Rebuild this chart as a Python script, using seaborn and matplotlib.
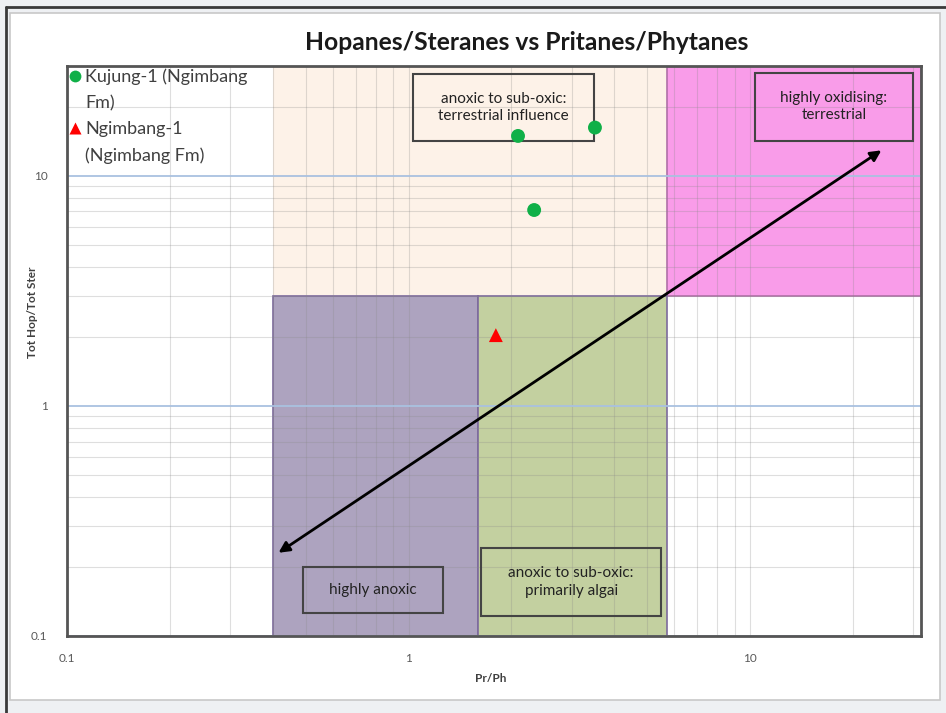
import pandas as pd
import seaborn as sns
import matplotlib.pyplot as plt
from matplotlib.patches import Rectangle
from matplotlib.lines import Line2D
from matplotlib.ticker import LogLocator, FixedFormatter, FixedLocator

# --- data ---
wells = ["Kujung-1 (Ngimbang"] * 3 + ["Ngimbang-1"]
well_suffix = ["Fm)", "(Ngimbang Fm)"]   # second legend line of each well
pr_ph = [2.09, 3.51, 2.33, 1.80]
hop_ster = [14.9, 16.2, 7.1, 2.03]

# interpretation field limits
x_cuts = [0.4, 1.6, 5.7, 31.6]
y_cuts = [0.1, 3.0, 30.0]

# text boxes: label, x-range, y-range
box_labels = ["anoxic to sub-oxic:\nterrestrial influence", "highly oxidising:\nterrestrial",
              "highly anoxic", "anoxic to sub-oxic:\nprimarily algai"]
box_x = [(1.03, 3.49), (10.3, 30.0), (0.49, 1.26), (1.63, 5.48)]
box_y = [(14.1, 27.8), (14.2, 28.1), (0.126, 0.2), (0.122, 0.242)]

# trend arrow ends
arrow_start = (24.2, 12.9)
arrow_end = (0.416, 0.23)

df = pd.DataFrame({"well": wells, "pr_ph": pr_ph, "hop_ster": hop_ster})

sns.set_style("white")
plt.rcParams["font.family"] = ["Lato", "DejaVu Sans"]

fig = plt.figure(figsize=(9.46, 7.13), dpi=100, facecolor="#eef0f3")

# white chart panel and window edges
fig.patches.append(Rectangle((10 / 946, 1 - 700 / 713), 930 / 946, 687 / 713,
                             transform=fig.transFigure, facecolor="white",
                             edgecolor="#c8c8c8", lw=1.2, zorder=-10))
fig.lines.append(Line2D([6 / 946, 6 / 946], [0, 1 - 7 / 713], transform=fig.transFigure,
                        color="#3a3a3a", lw=2, zorder=-9))
fig.lines.append(Line2D([6 / 946, 1], [1 - 7 / 713, 1 - 7 / 713], transform=fig.transFigure,
                        color="#3a3a3a", lw=2, zorder=-9))

ax = fig.add_axes([67 / 946, 1 - 636 / 713, 854 / 946, 570 / 713])
ax.set_facecolor("none")
ax.set_xscale("log")
ax.set_yscale("log")
ax.set_xlim(0.1, x_cuts[-1])
ax.set_ylim(y_cuts[0], y_cuts[-1])

# coloured fields
fields = [
    (x_cuts[0], x_cuts[2], y_cuts[1], y_cuts[2], "#fdf2e8", "none"),
    (x_cuts[2], x_cuts[3], y_cuts[1], y_cuts[2], "#f99ce9", "#b070a8"),
    (x_cuts[0], x_cuts[1], y_cuts[0], y_cuts[1], "#ada3bf", "#7d6a9d"),
    (x_cuts[1], x_cuts[2], y_cuts[0], y_cuts[1], "#c3d0a0", "#7d6a9d"),
]
for x0, x1, y0, y1, fc, ec in fields:
    ax.add_patch(Rectangle((x0, y0), x1 - x0, y1 - y0, facecolor=fc, edgecolor=ec,
                           lw=1.2, zorder=1))

# grid
ax.set_axisbelow(False)
ax.xaxis.set_minor_locator(LogLocator(base=10, subs=range(2, 10)))
ax.yaxis.set_minor_locator(LogLocator(base=10, subs=range(2, 10)))
ax.grid(True, which="minor", color="#8a8a8a", alpha=0.28, lw=0.8)
ax.grid(True, which="major", axis="x", color="#8a8a8a", alpha=0.28, lw=0.8)
ax.grid(True, which="major", axis="y", color="#a9c1e0", lw=1.3)

ax.xaxis.set_major_locator(FixedLocator([0.1, 1, 10]))
ax.xaxis.set_major_formatter(FixedFormatter(["0.1", "1", "10"]))
ax.yaxis.set_major_locator(FixedLocator([0.1, 1, 10]))
ax.yaxis.set_major_formatter(FixedFormatter(["0.1", "1", "10"]))
ax.xaxis.set_minor_formatter(FixedFormatter([]))
ax.yaxis.set_minor_formatter(FixedFormatter([]))
ax.tick_params(which="major", length=0, labelsize=8.5, labelcolor="#595959", pad=12)
ax.tick_params(which="minor", length=0)
ax.tick_params(axis="y", which="major", pad=14)

for s in ax.spines.values():
    s.set_color("#555555")
    s.set_linewidth(2)
    s.set_zorder(6)

# text boxes
for lab, (x0, x1), (y0, y1) in zip(box_labels, box_x, box_y):
    ax.add_patch(Rectangle((x0, y0), x1 - x0, y1 - y0, facecolor="none",
                           edgecolor="#444444", lw=1.5, zorder=3))
    ax.text((x0 * x1) ** 0.5, (y0 * y1) ** 0.5, lab, ha="center", va="center",
            fontsize=11, color="#222222", zorder=3, linespacing=1.3)

# arrow
ax.annotate("", xy=arrow_end, xytext=arrow_start,
            arrowprops=dict(arrowstyle="<|-|>", color="black", lw=2,
                            mutation_scale=16, shrinkA=0, shrinkB=0), zorder=4)

# points
sns.scatterplot(data=df, x="pr_ph", y="hop_ster", hue="well", style="well",
                palette=["#10b048", "#ff0000"], markers=["o", "^"],
                s=100, edgecolor="none", ax=ax, zorder=5)

handles, labels = ax.get_legend_handles_labels()
leg = ax.legend(handles, labels, loc="upper left", bbox_to_anchor=(-0.004, 1.008),
                frameon=False, fontsize=13, handlelength=0.5, handletextpad=0.3,
                labelspacing=2.0, borderaxespad=0, markerscale=0.85,
                labelcolor="#404040")
fig.canvas.draw()
# continuation lines of the legend labels, placed under each entry
for txt, extra in zip(leg.get_texts(), well_suffix):
    bb = txt.get_window_extent()
    x_fig, y_fig = fig.transFigure.inverted().transform((bb.x0, (bb.y0 + bb.y1) / 2))
    fig.text(x_fig, y_fig - 26 / 713, extra, ha="left", va="center",
             fontsize=13, color="#404040")

ax.set_xlabel("")
ax.set_ylabel("")
fig.text(527 / 946, 1 - 43 / 713, "Hopanes/Steranes vs Pritanes/Phytanes",
         ha="center", va="center", fontsize=17.7, fontweight="bold", color="#1a1a1a")
fig.text(491 / 946, 1 - 678 / 713, "Pr/Ph", ha="center", va="center",
         fontsize=8.5, fontweight="bold", color="#404040")
fig.text(33 / 946, 1 - 312 / 713, "Tot Hop/Tot Ster", ha="center", va="center",
         rotation=90, fontsize=8.5, fontweight="bold", color="#404040")

fig.savefig("out.png", dpi=100, facecolor=fig.get_facecolor())
